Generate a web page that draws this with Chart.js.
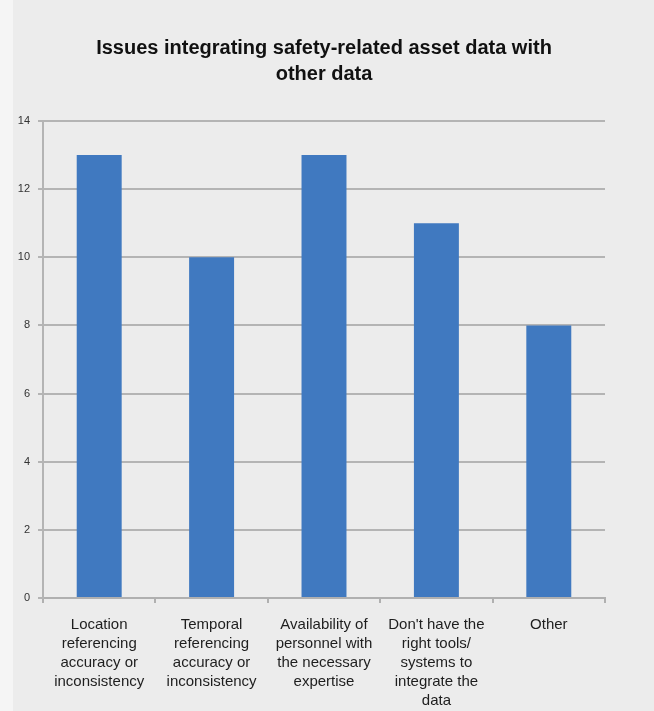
<!DOCTYPE html>
<html>
<head>
<meta charset="utf-8">
<script src="https://cdn.jsdelivr.net/npm/chart.js@4/dist/chart.umd.min.js"></script>
<style>
  html, body { margin: 0; padding: 0; background: #ececec; }
  #wrap { width: 654px; height: 711px; }
</style>
</head>
<body>
<div id="wrap"><canvas id="issuesChart" width="654" height="711"></canvas></div>
<script>
const categories = [
  ["Location", "referencing", "accuracy or", "inconsistency"],
  ["Temporal", "referencing", "accuracy or", "inconsistency"],
  ["Availability of", "personnel with", "the necessary", "expertise"],
  ["Don't have the", "right tools/", "systems to", "integrate the", "data"],
  ["Other"]
];
const responses = [13, 10, 13, 11, 8];
const yTicks = [0, 2, 4, 6, 8, 10, 12, 14];
const chartTitle = ["Issues integrating safety-related asset data with", "other data"];

const fontFamily = "'Liberation Sans', Arial, sans-serif";

// grey panel with the light strip on the left edge, title centred over the plot
const panelBackground = {
  id: "panelBackground",
  beforeDraw(chart) {
    const ctx = chart.ctx;
    ctx.save();
    ctx.fillStyle = "#ececec";
    ctx.fillRect(0, 0, chart.width, chart.height);
    ctx.fillStyle = "#f5f5f5";
    ctx.fillRect(0, 0, 13, chart.height);
    ctx.restore();
  },
  afterDraw(chart) {
    const ctx = chart.ctx;
    const area = chart.chartArea;
    const cx = (area.left + area.right) / 2;
    ctx.save();
    ctx.fillStyle = "#111";
    ctx.font = "bold 20px " + fontFamily;
    ctx.textAlign = "center";
    ctx.textBaseline = "middle";
    chartTitle.forEach((line, i) => ctx.fillText(line, cx, 48 + i * 26));
    ctx.restore();
  }
};

const ctx = document.getElementById("issuesChart").getContext("2d");

new Chart(ctx, {
  type: "bar",
  data: {
    labels: categories,
    datasets: [{
      data: responses,
      backgroundColor: "#4079c0",
      borderWidth: 0,
      barPercentage: 0.8,
      categoryPercentage: 0.5
    }]
  },
  options: {
    responsive: false,
    animation: false,
    devicePixelRatio: 1,
    layout: { padding: { left: 0, right: 49, top: 121, bottom: 0 } },
    plugins: {
      legend: { display: false },
      tooltip: { enabled: false },
      title: { display: false }
    },
    scales: {
      x: {
        afterFit: (scale) => { scale.height = 113; },
        grid: {
          display: true,
          offset: true,
          drawOnChartArea: false,
          drawTicks: true,
          tickLength: 5,
          color: "#b0b0b0",
          lineWidth: 2
        },
        border: { display: true, color: "#b0b0b0", width: 2 },
        ticks: {
          color: "#1e1e1e",
          padding: 12,
          maxRotation: 0,
          autoSkip: false,
          font: { family: fontFamily, size: 15, lineHeight: 1.27 }
        }
      },
      y: {
        min: 0,
        max: 14,
        afterBuildTicks: (scale) => {
          scale.ticks = yTicks.map(v => ({ value: v }));
        },
        afterFit: (scale) => { scale.width = 43; },
        grid: {
          color: "#b4b4b4",
          lineWidth: 2,
          tickLength: 5
        },
        border: { display: true, color: "#b4b4b4", width: 2 },
        ticks: {
          color: "#333",
          padding: 8,
          font: { family: fontFamily, size: 11 }
        }
      }
    }
  },
  plugins: [panelBackground]
});
</script>
</body>
</html>
